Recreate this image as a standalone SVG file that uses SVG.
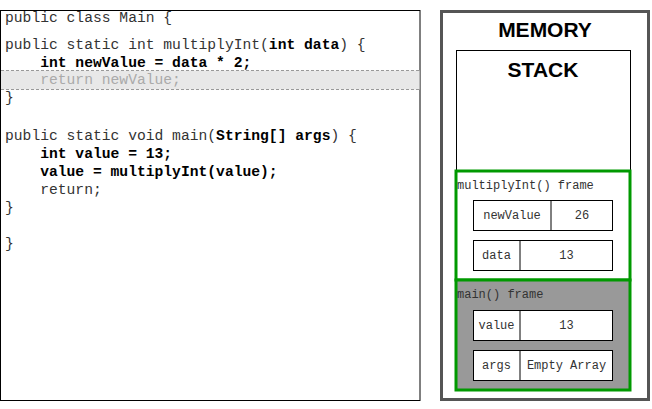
<svg xmlns="http://www.w3.org/2000/svg" width="652" height="409" viewBox="0 0 652 409">
<style>
.code{font-family:"Liberation Mono","Courier New",monospace;font-size:14.67px;fill:#333;white-space:pre}
.b{font-weight:bold;fill:#000}
.dim{fill:#aaa}
.title{font-family:"Liberation Sans",Arial,sans-serif;font-size:21px;font-weight:bold;fill:#000;text-anchor:middle}
.mono{font-family:"Liberation Mono","Courier New",monospace;font-size:12px;fill:#333}
.cell text{text-anchor:middle}
.cellbox{fill:#fff;stroke:#000;stroke-width:1}
.frame{stroke:#009900;stroke-width:3}
</style>
<rect width="652" height="409" fill="#fff"/>
<g id="code-panel">
<rect x="0.5" y="10.5" width="419.5" height="390" fill="#fff" stroke="#000" stroke-width="1"/>
<rect x="1" y="70.5" width="418.5" height="19" fill="#e8e8e8"/>
<line x1="1" y1="70.5" x2="419.5" y2="70.5" stroke="#999" stroke-width="1" stroke-dasharray="3,2"/>
<line x1="1" y1="89.5" x2="419.5" y2="89.5" stroke="#999" stroke-width="1" stroke-dasharray="3,2"/>
<text class="code" x="5" y="22">public class Main {</text>
<text class="code" x="5" y="49">public static int multiplyInt(<tspan class="b">int data</tspan>) {</text>
<text class="code b" x="5" y="66.5">    int newValue = data * 2;</text>
<text class="code dim" x="5" y="84">    return newValue;</text>
<text class="code" x="5" y="102">}</text>
<text class="code" x="5" y="139.5">public static void main(<tspan class="b">String[] args</tspan>) {</text>
<text class="code b" x="5" y="157.5">    int value = 13;</text>
<text class="code b" x="5" y="175.5">    value = multiplyInt(value);</text>
<text class="code" x="5" y="193.5">    return;</text>
<text class="code" x="5" y="211.5">}</text>
<text class="code" x="5" y="247.5">}</text>
</g>
<g id="memory">
<rect x="441.5" y="11.5" width="207" height="388" fill="#fff" stroke="#555" stroke-width="3"/>
<text class="title" x="545" y="37">MEMORY</text>
</g>
<g id="stack">
<rect x="456.5" y="50.5" width="174" height="340" fill="#fff" stroke="#000" stroke-width="1"/>
<text class="title" x="543" y="77">STACK</text>
</g>
<g id="multiplyInt-frame">
<rect class="frame" x="456" y="171" width="174" height="109" fill="#fff"/>
<text class="mono" x="457" y="189">multiplyInt() frame</text>
<g class="cell" id="cell-newValue">
<rect class="cellbox" x="473.5" y="200.5" width="139" height="30"/>
<line x1="551" y1="200.5" x2="551" y2="230.5" stroke="#000"/>
<text class="mono" x="512" y="219">newValue</text>
<text class="mono" x="582" y="219">26</text>
</g>
<g class="cell" id="cell-data">
<rect class="cellbox" x="473.5" y="240.5" width="139" height="30"/>
<line x1="520" y1="240.5" x2="520" y2="270.5" stroke="#000"/>
<text class="mono" x="496.5" y="259">data</text>
<text class="mono" x="566.5" y="259">13</text>
</g>
</g>
<g id="main-frame">
<rect class="frame" x="456" y="280" width="174" height="110" fill="#999"/>
<text class="mono" x="457" y="298">main() frame</text>
<g class="cell" id="cell-value">
<rect class="cellbox" x="473.5" y="310.5" width="139" height="30"/>
<line x1="520" y1="310.5" x2="520" y2="340.5" stroke="#000"/>
<text class="mono" x="496.5" y="329">value</text>
<text class="mono" x="566.5" y="329">13</text>
</g>
<g class="cell" id="cell-args">
<rect class="cellbox" x="473.5" y="350.5" width="139" height="30"/>
<line x1="520" y1="350.5" x2="520" y2="380.5" stroke="#000"/>
<text class="mono" x="496.5" y="369">args</text>
<text class="mono" x="566.5" y="369">Empty Array</text>
</g>
</g>
<g id="connectors"></g>
</svg>
